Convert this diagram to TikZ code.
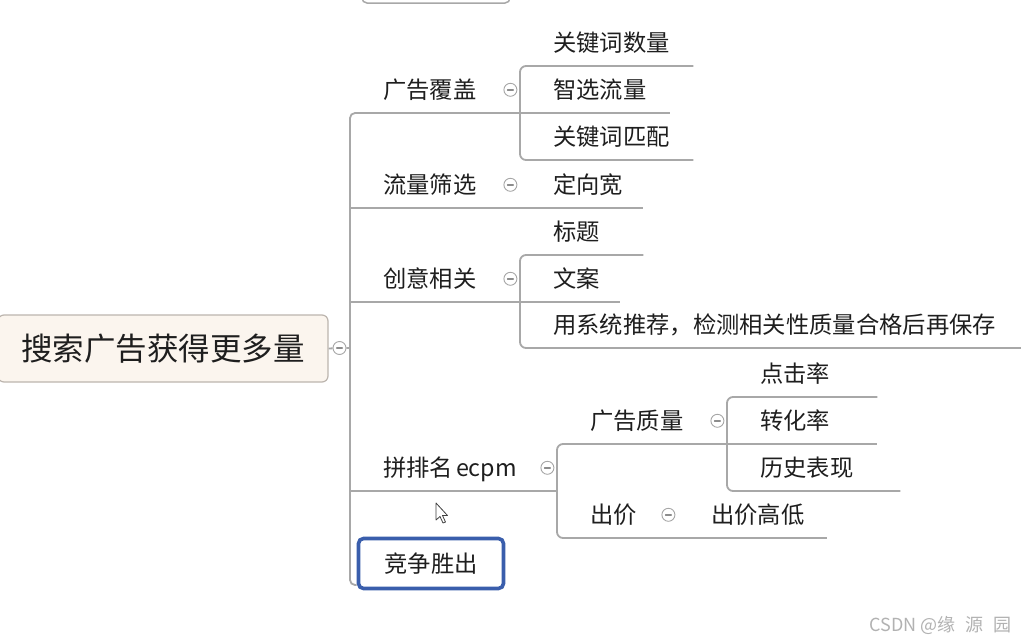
\documentclass[tikz,border=0pt]{standalone}
\usepackage{fontspec}
\setmainfont{Noto Sans CJK SC}
\definecolor{linec}{RGB}{168,168,168}
\definecolor{rootfill}{RGB}{251,245,238}
\definecolor{rootline}{RGB}{188,181,174}
\definecolor{selc}{RGB}{58,94,172}
\definecolor{txtc}{RGB}{30,30,30}
\begin{document}
\begin{tikzpicture}[
  x=1pt, y=-1pt,
  link/.style={draw=linec, line width=1.8pt},
  topic/.style={anchor=south west, inner sep=0pt, minimum height=46pt, text height=21pt, text depth=4pt,
                align=left, text=txtc, font=\fontsize{23.3}{23.3}\selectfont,
                execute at begin node={\hspace*{33pt}}},
  rootbox/.style={draw=rootline, fill=rootfill, line width=1.2pt, rounded corners=6pt, minimum width=330pt,
                  minimum height=67pt, text=txtc, font=\fontsize{31.5}{31.5}\selectfont},
  selbox/.style={draw=selc, fill=white, line width=3.6pt, rounded corners=5pt, minimum width=145pt,
                 minimum height=50pt, text=txtc, font=\fontsize{23.3}{23.3}\selectfont},
  fold/.style={circle, draw=black!35, fill=white, line width=0.9pt, minimum size=13pt, inner sep=0pt,
               path picture={\draw[black!45, line width=1.5pt, line cap=round]
                 ([xshift=-2.8pt]path picture bounding box.center) -- ([xshift=2.8pt]path picture bounding box.center);}},
]
\fill[white] (0,0) rectangle (1021,643);
\useasboundingbox (0,0) rectangle (1021,643);
\clip (0,0) rectangle (1021,643);
% topic cut off at the top
\draw[link, line width=1.5pt, rounded corners=5pt] (362,-40) rectangle (510,3);
\node[rootbox] (root) at (163,348.5) {搜索广告获得更多量};
\node[fold] (rootfold) at (339.5,348) {};
% level 1
\node[topic, text width=170] (cover) at (350,113) {广告覆盖};
\node[topic, text width=170] (filter) at (350,208) {流量筛选};
\node[topic, text width=170] (creative) at (350,302) {创意相关};
\node[topic, text width=207] (rank) at (350,491) {拼排名\hspace{3pt}ecpm};
\node[selbox] (win) at (431,563.5) {竞争胜出};
% level 2
\node[topic, text width=173] (kwnum) at (520,66) {关键词数量};
\node[topic, text width=150] (smart) at (520,113) {智选流量};
\node[topic, text width=173] (kwmatch) at (520,160) {关键词匹配};
\node[topic, text width=123] (wide) at (520,208) {定向宽};
\node[topic, text width=123] (title) at (520,255) {标题};
\node[topic, text width=100] (copy) at (520,302) {文案};
\node[topic, text width=501] (recom) at (520,348) {用系统推荐，检测相关性质量合格后再保存};
\node[topic, text width=170] (quality) at (557,444) {广告质量};
\node[topic, text width=121] (bid) at (557,538) {出价};
% level 3
\node[topic, text width=150] (ctr) at (727,397) {点击率};
\node[topic, text width=150] (cvr) at (727,444) {转化率};
\node[topic, text width=173] (hist) at (727,491) {历史表现};
\node[topic, text width=149] (bidlvl) at (678,538) {出价高低};
% spine and brackets
\coordinate (spinebot) at (350,585);
\draw[link] (root.east) -- (rootfold) -- (rootfold -| cover.west);
\draw[link, rounded corners=5pt] (cover.south east) -- (cover.south west) -- (spinebot) -- (spinebot -| win.west);
\draw[link, rounded corners=6pt] (kwnum.south east) -- (kwnum.south west) -- (kwmatch.south west) -- (kwmatch.south east);
\draw[link, rounded corners=6pt] (title.south east) -- (title.south west) -- (recom.south west) -- (recom.south east);
\draw[link, rounded corners=6pt] (quality.south east) -- (quality.south west) -- (bid.south west) -- (bid.south east);
\draw[link, rounded corners=6pt] (ctr.south east) -- (ctr.south west) -- (hist.south west) -- (hist.south east);
\foreach \n in {filter,creative,rank,smart,wide,copy,cvr,bidlvl} \draw[link] (\n.south west) -- (\n.south east);
% collapse marks
\foreach \n in {cover,filter,creative,rank,quality,bid} \node[fold] (fold-\n) at ([xshift=-10pt]\n.east) {};
% mouse pointer
\draw[fill=white, draw=black!75, line width=0.8pt, line join=round, shift={(436,503)}]
  (0,0) -- (0,17) -- (4,13.5) -- (7,20) -- (9.5,19) -- (6.5,12.5) -- (11.5,12.5) -- cycle;
\node[anchor=east, inner sep=0pt, text=black!30, font=\fontsize{18}{18}\selectfont] (mark) at (1012,625)
  {CSDN @缘\hspace{10pt}源\hspace{10pt}园};
\end{tikzpicture}
\end{document}
